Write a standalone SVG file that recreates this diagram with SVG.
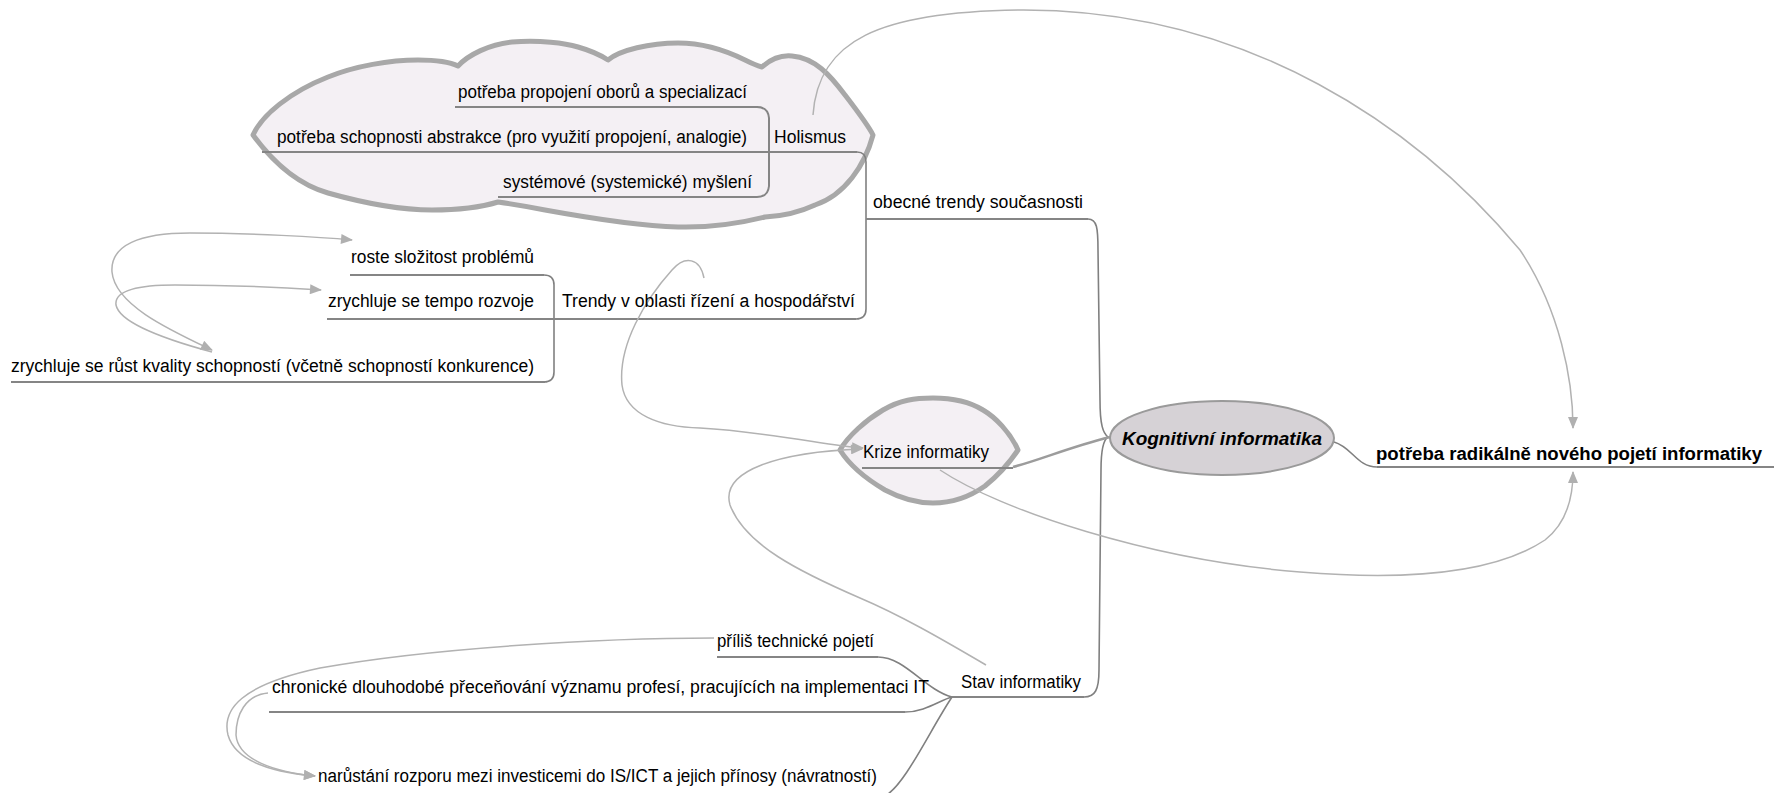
<svg xmlns="http://www.w3.org/2000/svg" width="1774" height="793" viewBox="0 0 1774 793">
<defs>
<style>
text{font-family:"Liberation Sans",Arial,sans-serif;font-size:18px;fill:#000}
.b{font-weight:bold}
.bi{font-weight:bold;font-style:italic}
.cloud{fill:#f4f0f4;stroke:#a8a8a8;stroke-width:5;stroke-linejoin:round}
.br{fill:none;stroke:#808080;stroke-width:1.6}
.ul{fill:none;stroke:#858585;stroke-width:2}
.rel{fill:none;stroke:#b2b2b2;stroke-width:1.5}
.thick{fill:none;stroke:#9c9c9c;stroke-width:2.6}
</style>
<marker id="ah" viewBox="0 0 12 10" refX="11" refY="5" markerWidth="13" markerHeight="10" markerUnits="userSpaceOnUse" orient="auto-start-reverse">
<path d="M0,0 L12,5 L0,10 Z" fill="#b0b0b0"/>
</marker>
</defs>
<rect width="1774" height="793" fill="#ffffff"/>

<g id="boundary-holismus">
<path class="cloud" d="M253,135 C262,115 290,92 328,77 C355,66 390,60 418,60 C435,60 450,62 458,66 C468,55 490,44 512,42 C540,40 565,43 578,47 C592,51 602,56 608,60 C620,50 650,43 678,43 C700,43 725,50 745,60 Q755,65 762,67 C772,58 782,55 792,56 C815,58 830,75 845,95 C858,112 868,125 873,135 C865,165 845,195 815,205 C800,212 785,216 765,217 C745,222 715,228 678,227 C640,226 600,220 545,210 C525,206 505,203 498,202 C485,206 460,210 432,210 C400,210 360,202 328,193 C300,185 275,165 253,135 Z"/>
</g>
<g id="boundary-krize">
<path class="cloud" d="M840,450 C848,436 866,420 883,410 C900,400 915,398 933,398 C955,398 970,402 983,410 C995,417 1010,432 1018,450 C1010,462 1000,474 985,486 C968,498 950,503 933,503 C915,503 900,498 885,490 C868,480 850,466 840,450 Z"/>
</g>

<g id="connectors">
<path class="ul" d="M455,107 H757 Q768,107 769,118 L769,186 Q768,197 757,197 H498"/>
<path class="ul" d="M262,152 H857"/>
<path class="br" d="M857,152 Q866,152 866,162 L866,309 Q866,319 856,319"/>
<path class="ul" d="M866,219 H1088"/>
<path class="br" d="M350,275 H544 Q554,275 554,285 L554,372 Q554,382 544,382"/>
<path class="ul" d="M350,275 H544"/>
<path class="ul" d="M11,382 H545"/>
<path class="ul" d="M327,319 H856"/>
<path class="br" d="M1088,219 C1097,219 1098,228 1098,250 L1100,400 C1100,425 1103,433 1108,437"/>
<path class="br" d="M1108,437 C1103,440 1101,452 1101,470 L1099,670 C1099,690 1095,697 1084,697"/>
<path class="ul" d="M862,468 H1013"/>
<path class="thick" d="M1013,467 C1040,460 1070,447 1110,437"/>
<path class="br" d="M1334,442 C1352,447 1357,467 1377,467"/>
<path class="ul" d="M1377,467 H1774"/>
<path class="ul" d="M952,697 H1084"/>
<path class="br" d="M717,657 H878 C905,657 925,690 952,697"/>
<path class="ul" d="M717,657 H878"/>
<path class="br" d="M269,712 H905 C925,712 940,700 952,697"/>
<path class="ul" d="M269,712 H905"/>
<path class="br" d="M952,697 C930,730 905,785 885,796"/>
<path class="rel" marker-end="url(#ah)" d="M813,115 C818,40 880,12 1018,10 C1250,8 1420,130 1520,250 C1560,310 1573,380 1573,428"/>
<path class="rel" marker-end="url(#ah)" d="M940,470 C1000,510 1150,560 1300,572 C1420,582 1500,570 1545,540 C1568,522 1573,495 1573,472"/>
<path class="rel" marker-end="url(#ah)" d="M704,278 C700,258 685,255 672,270 C645,300 618,345 622,385 C626,415 660,427 700,428 C770,432 830,446 863,448"/>
<path class="rel" marker-end="url(#ah)" d="M986,665 C940,638 900,615 860,598 C800,572 745,545 730,505 C720,470 780,452 862,449"/>
<path class="rel" marker-start="url(#ah)" marker-end="url(#ah)" d="M212,350 C170,330 115,305 112,272 C110,245 140,233 190,233 C250,233 320,237 352,240"/>
<path class="rel" marker-end="url(#ah)" d="M212,352 C175,342 120,325 116,305 C114,290 140,285 175,285 C240,285 290,288 321,290"/>
<path class="rel" marker-end="url(#ah)" d="M714,638 C600,638 430,648 320,668 C240,685 222,710 228,735 C235,760 270,772 315,776"/>
<path class="rel" marker-end="url(#ah)" d="M268,693 C245,695 236,715 236,735 C238,760 275,772 315,776"/>
</g>

<g id="node-propojeni"><text x="458" y="98" textLength="289" lengthAdjust="spacingAndGlyphs">potřeba propojení oborů a specializací</text></g>
<g id="node-abstrakce"><text x="277" y="143" textLength="470" lengthAdjust="spacingAndGlyphs">potřeba schopnosti abstrakce (pro využití propojení, analogie)</text></g>
<g id="node-holismus"><text x="774" y="143" textLength="72" lengthAdjust="spacingAndGlyphs">Holismus</text></g>
<g id="node-systemove"><text x="503" y="188" textLength="249" lengthAdjust="spacingAndGlyphs">systémové (systemické) myšlení</text></g>
<g id="node-obecne"><text x="873" y="208" textLength="210" lengthAdjust="spacingAndGlyphs">obecné trendy současnosti</text></g>
<g id="node-roste"><text x="351" y="263" textLength="183" lengthAdjust="spacingAndGlyphs">roste složitost problémů</text></g>
<g id="node-tempo"><text x="328" y="307" textLength="206" lengthAdjust="spacingAndGlyphs">zrychluje se tempo rozvoje</text></g>
<g id="node-trendy"><text x="562" y="307" textLength="293" lengthAdjust="spacingAndGlyphs">Trendy v oblasti řízení a hospodářství</text></g>
<g id="node-rust"><text x="11" y="372" textLength="523" lengthAdjust="spacingAndGlyphs">zrychluje se růst kvality schopností (včetně schopností konkurence)</text></g>
<g id="node-krize"><text x="863" y="458" textLength="126" lengthAdjust="spacingAndGlyphs">Krize informatiky</text></g>
<g id="node-kognitivni">
<ellipse cx="1222" cy="438" rx="112" ry="37" fill="#d6d2d6" stroke="#9a9a9a" stroke-width="2"/>
<text class="bi" x="1122" y="445" textLength="200" lengthAdjust="spacingAndGlyphs">Kognitivní informatika</text>
</g>
<g id="node-potreba"><text class="b" x="1376" y="460" textLength="386" lengthAdjust="spacingAndGlyphs">potřeba radikálně nového pojetí informatiky</text></g>
<g id="node-prilis"><text x="717" y="647" textLength="157" lengthAdjust="spacingAndGlyphs">příliš technické pojetí</text></g>
<g id="node-chronicke"><text x="272" y="693" textLength="657" lengthAdjust="spacingAndGlyphs">chronické dlouhodobé přeceňování významu profesí, pracujících na implementaci IT</text></g>
<g id="node-stav"><text x="961" y="688" textLength="120" lengthAdjust="spacingAndGlyphs">Stav informatiky</text></g>
<g id="node-narustani"><text x="318" y="782" textLength="559" lengthAdjust="spacingAndGlyphs">narůstání rozporu mezi investicemi do IS/ICT a jejich přínosy (návratností)</text></g>
</svg>
